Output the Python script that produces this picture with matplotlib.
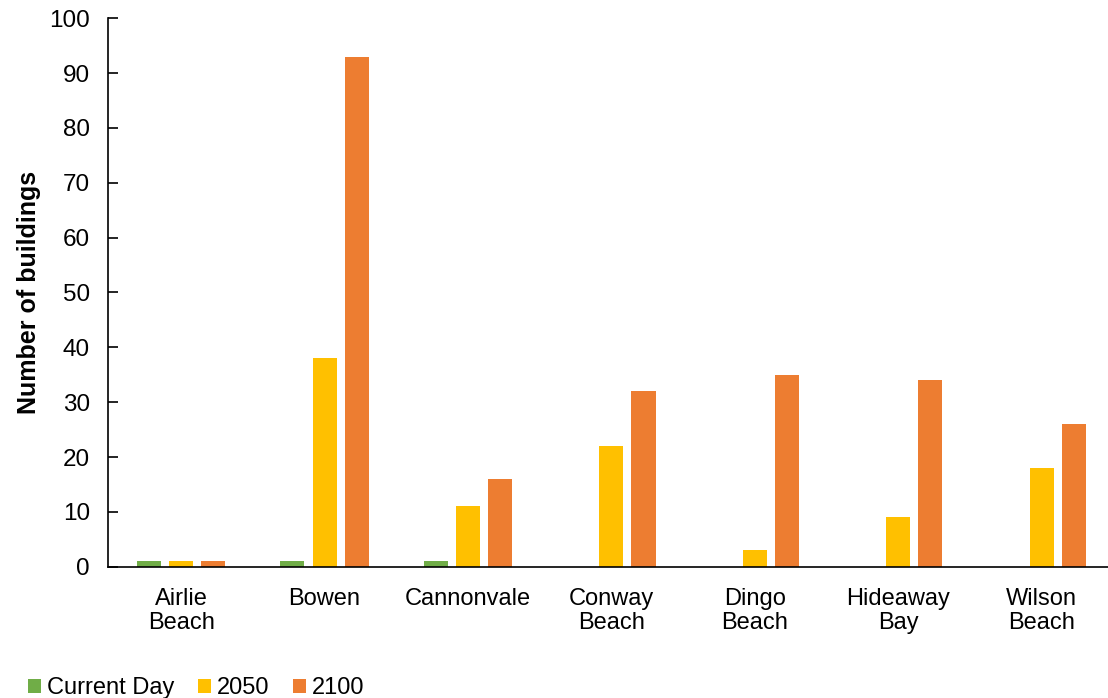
import matplotlib.pyplot as plt
import numpy as np

plt.rcParams['font.family'] = ['Liberation Sans', 'DejaVu Sans']

towns = ['Airlie\nBeach', 'Bowen', 'Cannonvale', 'Conway\nBeach', 'Dingo\nBeach', 'Hideaway\nBay', 'Wilson\nBeach']
current_day = [1, 1, 1, 0, 0, 0, 0]
y2050 = [1, 38, 11, 22, 3, 9, 18]
y2100 = [1, 93, 16, 32, 35, 34, 26]

series = [('Current Day', current_day, '#70AD47'),
          ('2050', y2050, '#FFC000'),
          ('2100', y2100, '#ED7D31')]

fig = plt.figure(figsize=(11.08, 6.98), dpi=100)
ax = fig.add_axes([0.0975, 0.188, 0.906, 0.786])

x = np.arange(len(towns))
w = 0.168
step = 0.224
for i, (name, vals, col) in enumerate(series):
    ax.bar(x + (i - 1) * step, vals, width=w, color=col, label=name)

ax.set_xlim(-0.51, len(towns) - 0.51)
ax.set_ylim(0, 100)
ax.set_yticks(range(0, 101, 10))
ax.set_xticks(x)
ax.set_xticklabels(towns, fontsize=17, linespacing=1.15)
ax.tick_params(axis='y', direction='in', length=7, width=1.2, labelsize=17.5, pad=13)
ax.tick_params(axis='x', length=0, pad=15)
ax.spines['top'].set_visible(False)
ax.spines['right'].set_visible(False)
ax.spines['left'].set_linewidth(1.2)
ax.spines['bottom'].set_linewidth(1.2)
ax.set_ylabel('Number of buildings', fontsize=18, fontweight='bold', labelpad=6)

fig.legend(loc='lower left', bbox_to_anchor=(0.006, -0.032), ncol=3, frameon=False,
           fontsize=17, handlelength=0.55, handleheight=0.55, handletextpad=0.25,
           columnspacing=1.0)

fig.savefig('out.png', dpi=100)
